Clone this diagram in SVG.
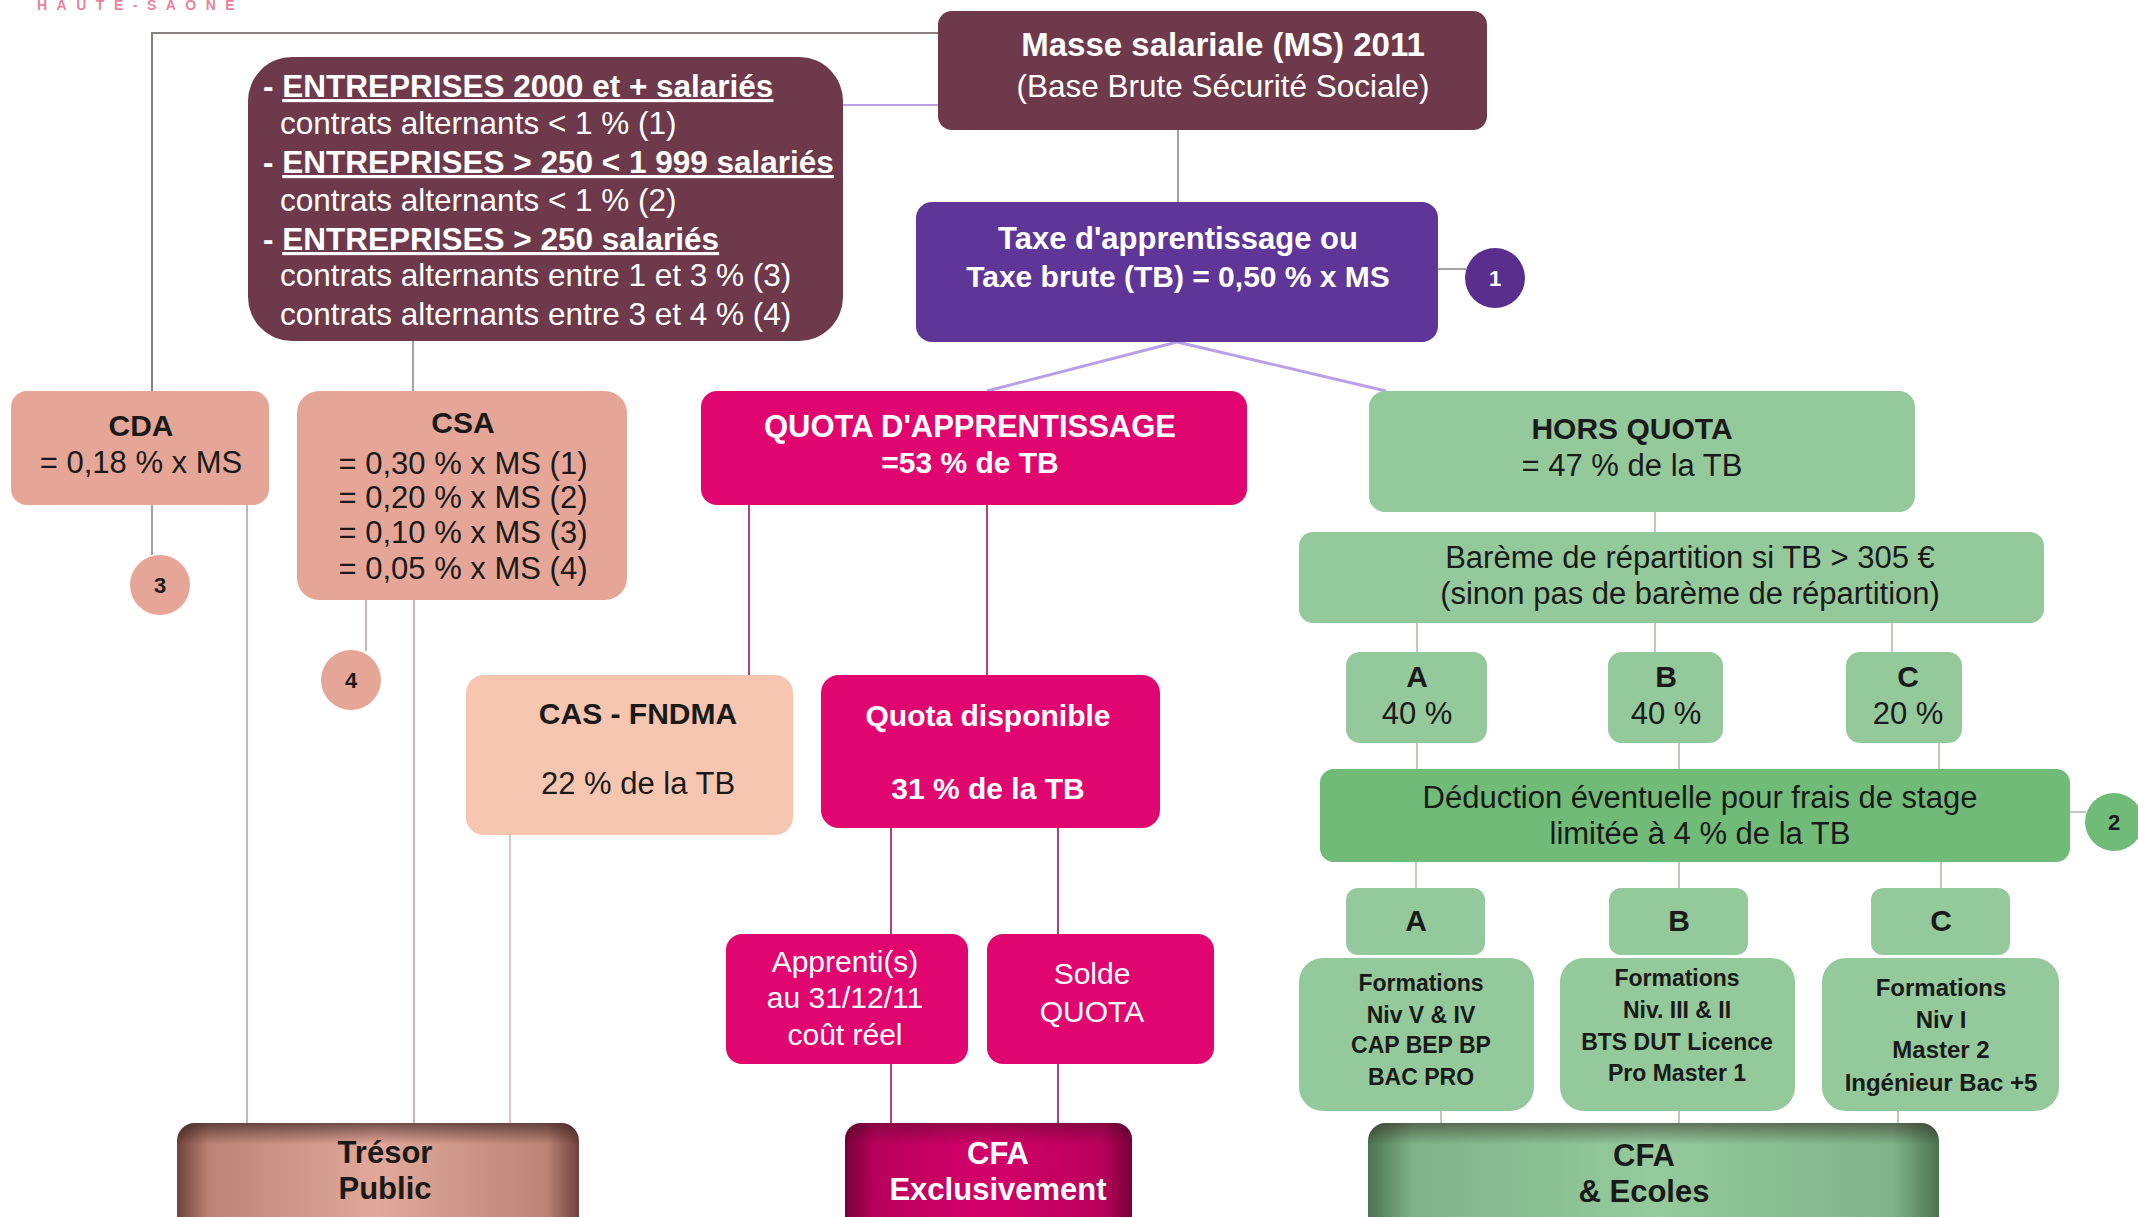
<svg xmlns="http://www.w3.org/2000/svg" width="2138" height="1217" viewBox="0 0 2138 1217" font-family="'Liberation Sans', Arial, sans-serif">
<style>
text{text-anchor:middle}
.w{fill:#ffffff}
.k{fill:#1a1a1a}
.b{font-weight:bold}
.f30{font-size:30px}
.f31{font-size:31px}
.f23{font-size:23px}
.fe{font-size:31.5px}
.l{text-anchor:start}
.maroon{fill:#6e3a4b}
.purple{fill:#5f3698}
.mag{fill:#e1066f}
.salmon{fill:#e6a697}
.peach{fill:#f6c6b1}
.lg{fill:#93c99b}
.mg{fill:#6fbb77}
.cg{stroke:#8a8080;stroke-width:2;fill:none}
.cl{stroke:#b8a0e6;stroke-width:3;fill:none}
.cp{stroke:#bb9a98;stroke-width:1.5;fill:none}
.cm{stroke:#a8306c;stroke-width:1.8;fill:none}
.cgr{stroke:#a9b9aa;stroke-width:1.5;fill:none}
</style>
<defs>
<linearGradient id="gTres" x1="0" y1="0" x2="1" y2="0">
<stop offset="0" stop-color="#70423b"/><stop offset="0.08" stop-color="#bb8476"/><stop offset="0.5" stop-color="#e2a99a"/><stop offset="0.92" stop-color="#bb8476"/><stop offset="1" stop-color="#70423b"/>
</linearGradient>
<linearGradient id="gCfa" x1="0" y1="0" x2="1" y2="0">
<stop offset="0" stop-color="#76003a"/><stop offset="0.1" stop-color="#b8005a"/><stop offset="0.5" stop-color="#d4006a"/><stop offset="0.9" stop-color="#b8005a"/><stop offset="1" stop-color="#76003a"/>
</linearGradient>
<linearGradient id="gEco" x1="0" y1="0" x2="1" y2="0">
<stop offset="0" stop-color="#4a744f"/><stop offset="0.08" stop-color="#80b488"/><stop offset="0.5" stop-color="#94ca9c"/><stop offset="0.92" stop-color="#80b488"/><stop offset="1" stop-color="#4a744f"/>
</linearGradient>
<linearGradient id="gShade" x1="0" y1="0" x2="0" y2="1">
<stop offset="0" stop-color="#2a1515" stop-opacity="0.6"/><stop offset="0.18" stop-color="#2a1515" stop-opacity="0"/><stop offset="0.8" stop-color="#2a1515" stop-opacity="0"/><stop offset="1" stop-color="#2a1515" stop-opacity="0.35"/>
</linearGradient>
</defs>

<text x="37" y="10" fill="#e8839f" font-size="14" font-weight="bold" letter-spacing="9.5" style="text-anchor:start">HAUTE-SAONE</text>

<g id="connectors">
<polyline class="cg" points="938,33 152,33 152,391"/>
<line class="cl" style="stroke-width:2" x1="843" y1="105" x2="938" y2="105"/>
<line class="cg" style="stroke-width:1.5" x1="1178" y1="130" x2="1178" y2="202"/>
<line class="cg" style="stroke-width:1.5" x1="413" y1="341" x2="413" y2="391"/>
<line class="cg" style="stroke-width:1.5" x1="1438" y1="269" x2="1466" y2="269"/>
<line class="cl" x1="1177" y1="342" x2="987" y2="391"/>
<line class="cl" x1="1177" y1="342" x2="1386" y2="391"/>
<line class="cg" style="stroke-width:1.5" x1="152" y1="505" x2="152" y2="555"/>
<line class="cp" x1="247" y1="505" x2="247" y2="1125"/>
<line class="cp" x1="366" y1="600" x2="366" y2="651"/>
<line class="cp" x1="414" y1="600" x2="414" y2="1125"/>
<line class="cp" style="stroke:#cdb0a8" x1="510" y1="835" x2="510" y2="1125"/>
<line class="cm" x1="749" y1="505" x2="749" y2="675"/>
<line class="cm" x1="987" y1="505" x2="987" y2="675"/>
<line class="cm" x1="891" y1="828" x2="891" y2="1125"/>
<line class="cm" x1="1058" y1="828" x2="1058" y2="1125"/>
<line class="cgr" x1="1655" y1="511" x2="1655" y2="532"/>
<line class="cgr" x1="1417" y1="622" x2="1417" y2="652"/>
<line class="cgr" x1="1655" y1="622" x2="1655" y2="652"/>
<line class="cgr" x1="1892" y1="622" x2="1892" y2="652"/>
<line class="cgr" x1="1417" y1="742" x2="1417" y2="769"/>
<line class="cgr" x1="1679" y1="742" x2="1679" y2="769"/>
<line class="cgr" x1="1939" y1="742" x2="1939" y2="769"/>
<line class="cgr" x1="2069" y1="812" x2="2086" y2="812"/>
<line class="cgr" x1="1416" y1="862" x2="1416" y2="888"/>
<line class="cgr" x1="1679" y1="862" x2="1679" y2="888"/>
<line class="cgr" x1="1941" y1="862" x2="1941" y2="888"/>
<line class="cgr" x1="1441" y1="1110" x2="1441" y2="1125"/>
<line class="cgr" x1="1679" y1="1110" x2="1679" y2="1125"/>
<line class="cgr" x1="1898" y1="1110" x2="1898" y2="1125"/>
</g>

<g id="masse">
<rect class="maroon" x="938" y="11" width="549" height="119" rx="14"/>
<text class="w b" x="1223" y="56" font-size="33">Masse salariale (MS) 2011</text>
<text class="w" font-size="31.5" x="1223" y="97">(Base Brute Sécurité Sociale)</text>
</g>

<g id="entreprises">
<rect class="maroon" x="248" y="57" width="595" height="284" rx="44"/>
<text class="w fe l" x="263" y="97"><tspan class="b">- </tspan><tspan class="b" text-decoration="underline">ENTREPRISES 2000 et + salariés</tspan></text>
<text class="w fe l" x="280" y="134">contrats alternants &lt; 1 % (1)</text>
<text class="w fe l" x="263" y="173"><tspan class="b">- </tspan><tspan class="b" text-decoration="underline">ENTREPRISES &gt; 250 &lt; 1 999 salariés</tspan></text>
<text class="w fe l" x="280" y="211">contrats alternants &lt; 1 % (2)</text>
<text class="w fe l" x="263" y="250"><tspan class="b">- </tspan><tspan class="b" text-decoration="underline">ENTREPRISES &gt; 250 salariés</tspan></text>
<text class="w fe l" x="280" y="286">contrats alternants entre 1 et 3 % (3)</text>
<text class="w fe l" x="280" y="325">contrats alternants entre 3 et 4 % (4)</text>
</g>

<g id="taxe">
<rect class="purple" x="916" y="202" width="522" height="140" rx="16"/>
<text class="w b f31" x="1178" y="249">Taxe d'apprentissage ou</text>
<text class="w b f30" x="1178" y="287">Taxe brute (TB) = 0,50 % x MS</text>
</g>

<g id="c1">
<circle cx="1495" cy="278" r="30" fill="#5a2e8c"/>
<text class="w b" x="1495" y="286" font-size="22">1</text>
</g>

<g id="cda">
<rect class="salmon" x="11" y="391" width="258" height="114" rx="16"/>
<text class="k b f30" x="141" y="436">CDA</text>
<text class="k f31" x="141" y="473">= 0,18 % x MS</text>
</g>

<g id="c3">
<circle class="salmon" cx="160" cy="585" r="30"/>
<text class="k b" x="160" y="593" font-size="22">3</text>
</g>

<g id="csa">
<rect class="salmon" x="297" y="391" width="330" height="209" rx="22"/>
<text class="k b f30" x="463" y="433">CSA</text>
<text class="k f31" x="463" y="474">= 0,30 % x MS (1)</text>
<text class="k f31" x="463" y="508">= 0,20 % x MS (2)</text>
<text class="k f31" x="463" y="543">= 0,10 % x MS (3)</text>
<text class="k f31" x="463" y="579">= 0,05 % x MS (4)</text>
</g>

<g id="c4">
<circle class="salmon" cx="351" cy="680" r="30"/>
<text class="k b" x="351" y="688" font-size="22">4</text>
</g>

<g id="quota">
<rect class="mag" x="701" y="391" width="546" height="114" rx="16"/>
<text class="w b f31" x="970" y="437">QUOTA D'APPRENTISSAGE</text>
<text class="w b f30" x="970" y="473">=53 % de TB</text>
</g>

<g id="cas">
<rect class="peach" x="466" y="675" width="327" height="160" rx="18"/>
<text class="k b f30" x="638" y="724">CAS - FNDMA</text>
<text class="k f31" x="638" y="794">22 % de la TB</text>
</g>

<g id="dispo">
<rect class="mag" x="821" y="675" width="339" height="153" rx="18"/>
<text class="w b f30" x="988" y="726">Quota disponible</text>
<text class="w b f30" x="988" y="799">31 % de la TB</text>
</g>

<g id="apprentis">
<rect class="mag" x="726" y="934" width="242" height="130" rx="16"/>
<text class="w f30" x="845" y="972">Apprenti(s)</text>
<text class="w f30" x="845" y="1008">au 31/12/11</text>
<text class="w f30" x="845" y="1045">coût réel</text>
</g>

<g id="solde">
<rect class="mag" x="987" y="934" width="227" height="130" rx="16"/>
<text class="w f30" x="1092" y="984">Solde</text>
<text class="w f30" x="1092" y="1022">QUOTA</text>
</g>

<g id="tresor">
<rect x="177" y="1123" width="402" height="120" rx="18" fill="url(#gTres)"/>
<rect x="177" y="1123" width="402" height="120" rx="18" fill="url(#gShade)"/>
<text class="k b f31" x="385" y="1163">Trésor</text>
<text class="k b f31" x="385" y="1199">Public</text>
</g>

<g id="cfa">
<rect x="845" y="1123" width="287" height="120" rx="16" fill="url(#gCfa)"/>
<rect x="845" y="1123" width="287" height="120" rx="16" fill="url(#gShade)" opacity="0.6"/>
<text class="w b f31" x="998" y="1164">CFA</text>
<text class="w b f31" x="998" y="1200">Exclusivement</text>
</g>

<g id="hors">
<rect class="lg" x="1369" y="391" width="546" height="121" rx="16"/>
<text class="k b f30" x="1632" y="439">HORS QUOTA</text>
<text class="k f31" x="1632" y="476">= 47 % de la TB</text>
</g>

<g id="bareme">
<rect class="lg" x="1299" y="532" width="745" height="91" rx="14"/>
<text class="k f31" x="1690" y="568">Barème de répartition si TB &gt; 305 €</text>
<text class="k f31" x="1690" y="604">(sinon pas de barème de répartition)</text>
</g>

<g id="pa">
<rect class="lg" x="1346" y="652" width="141" height="91" rx="14"/>
<text class="k b f30" x="1417" y="687">A</text>
<text class="k f31" x="1417" y="724">40 %</text>
</g>
<g id="pb">
<rect class="lg" x="1608" y="652" width="115" height="91" rx="14"/>
<text class="k b f30" x="1666" y="687">B</text>
<text class="k f31" x="1666" y="724">40 %</text>
</g>
<g id="pc">
<rect class="lg" x="1846" y="652" width="116" height="91" rx="14"/>
<text class="k b f30" x="1908" y="687">C</text>
<text class="k f31" x="1908" y="724">20 %</text>
</g>

<g id="deduction">
<rect class="mg" x="1320" y="769" width="750" height="93" rx="14"/>
<text class="k f31" x="1700" y="808">Déduction éventuelle pour frais de stage</text>
<text class="k f31" x="1700" y="844">limitée à 4 % de la TB</text>
</g>

<g id="c2">
<circle class="mg" cx="2114" cy="822" r="29"/>
<text class="k b" x="2114" y="830" font-size="22">2</text>
</g>

<g id="la">
<rect class="lg" x="1346" y="888" width="139" height="67" rx="12"/>
<text class="k b f30" x="1416" y="931">A</text>
</g>
<g id="lb">
<rect class="lg" x="1609" y="888" width="139" height="67" rx="12"/>
<text class="k b f30" x="1679" y="931">B</text>
</g>
<g id="lc">
<rect class="lg" x="1871" y="888" width="139" height="67" rx="12"/>
<text class="k b f30" x="1941" y="931">C</text>
</g>

<g id="fa">
<rect class="lg" x="1299" y="958" width="235" height="153" rx="24"/>
<text class="k b f23" x="1421" y="991">Formations</text>
<text class="k b f23" x="1421" y="1023">Niv V &amp; IV</text>
<text class="k b f23" x="1421" y="1053">CAP BEP BP</text>
<text class="k b f23" x="1421" y="1085">BAC PRO</text>
</g>
<g id="fb">
<rect class="lg" x="1560" y="958" width="235" height="153" rx="24"/>
<text class="k b f23" x="1677" y="986">Formations</text>
<text class="k b f23" x="1677" y="1018">Niv. III &amp; II</text>
<text class="k b f23" x="1677" y="1050">BTS DUT Licence</text>
<text class="k b f23" x="1677" y="1081">Pro Master 1</text>
</g>
<g id="fc">
<rect class="lg" x="1822" y="958" width="237" height="153" rx="24"/>
<text class="k b" font-size="24" x="1941" y="996">Formations</text>
<text class="k b" font-size="24" x="1941" y="1028">Niv I</text>
<text class="k b" font-size="24" x="1941" y="1058">Master 2</text>
<text class="k b" font-size="24" x="1941" y="1091">Ingénieur Bac +5</text>
</g>

<g id="ecoles">
<rect x="1368" y="1123" width="571" height="120" rx="18" fill="url(#gEco)"/>
<rect x="1368" y="1123" width="571" height="120" rx="18" fill="url(#gShade)" opacity="0.8"/>
<text class="k b f31" x="1644" y="1166">CFA</text>
<text class="k b f31" x="1644" y="1202">&amp; Ecoles</text>
</g>
</svg>
